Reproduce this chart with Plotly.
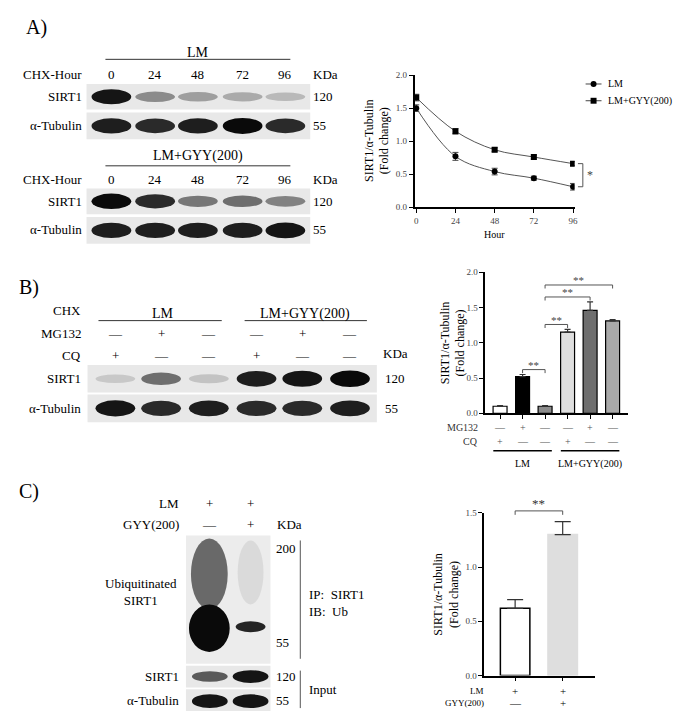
import plotly.graph_objects as go

W, H = 685, 711
def X(p): return p / W
def Y(p): return 1 - p / H

FONT = "'Liberation Serif', 'Times New Roman', 'DejaVu Serif', serif"

# ---- data ----
hours = [0, 24, 48, 72, 96]
lm_vals = [1.50, 0.77, 0.54, 0.44, 0.31]
lm_err = [0.05, 0.06, 0.05, 0.03, 0.05]
gyy_vals = [1.66, 1.15, 0.87, 0.76, 0.66]
gyy_err = [0.05, 0.04, 0.03, 0.03, 0.03]
series_names = ["LM", "LM+GYY(200)"]

b_vals = [0.10, 0.52, 0.10, 1.15, 1.46, 1.31]
b_err = [0.01, 0.03, 0.01, 0.04, 0.12, 0.02]
b_colors = ["white", "black", "#8c8c8c", "#dedede", "#6e6e6e", "#a9a9a9"]
b_mg132 = ["—", "+", "—", "—", "+", "—"]
b_cq = ["+", "—", "—", "+", "—", "—"]

c_vals = [0.62, 1.30]
c_err = [0.08, 0.12]
c_colors = ["white", "#dedede"]
c_lm = ["+", "+"]
c_gyy = ["—", "+"]

# blot band intensities
a_lm_sirt = [0.95, 0.35, 0.25, 0.2, 0.12]
a_lm_tub = [0.9, 0.85, 0.9, 1.0, 0.85]
a_gyy_sirt = [1.0, 0.85, 0.45, 0.5, 0.4]
a_gyy_tub = [0.9, 0.9, 0.9, 0.9, 0.95]
b_sirt = [0.04, 0.5, 0.08, 0.9, 0.95, 1.0]
b_tub = [0.95, 0.85, 0.9, 0.85, 0.85, 0.9]
c_sirt = [0.6, 0.95]
c_tub = [0.95, 0.95]

fig = go.Figure()
shapes, ann = [], []

def text(x, y, s, size=13, xa="center", xref="paper", yref="paper", color="black", angle=0):
    ann.append(dict(x=x, y=y, text=s, showarrow=False, xref=xref, yref=yref, xanchor=xa, textangle=angle,
                    yanchor="middle", font=dict(family=FONT, size=size, color=color)))

def hline(x0, x1, y, w=1, c="#333"):
    shapes.append(dict(type="line", xref="paper", yref="paper", x0=X(x0), x1=X(x1), y0=Y(y), y1=Y(y),
                       line=dict(color=c, width=w)))

def strip(x0, x1, y0, y1, lanes, inten, bw=40):
    shapes.append(dict(type="rect", xref="paper", yref="paper", x0=X(x0), x1=X(x1), y0=Y(y0), y1=Y(y1),
                       fillcolor="#e8e8e8", line=dict(width=0), layer="below"))
    cy = (y0 + y1) / 2
    for lx, v in zip(lanes, inten):
        h = (y1 - y0) * (0.3 + 0.3 * v)
        shapes.append(dict(type="circle", xref="paper", yref="paper", x0=X(lx - bw / 2), x1=X(lx + bw / 2),
                           y0=Y(cy - h / 2), y1=Y(cy + h / 2), fillcolor=f"rgba(10,10,10,{0.1 + 0.9 * v:.2f})",
                           line=dict(width=0)))

def dmap(v, r, d):
    return d[0] + (v - r[0]) / (r[1] - r[0]) * (d[1] - d[0])

# ---- Panel A blots ----
text(X(28), Y(15), "A)", 20)
a_lanes = [103, 147, 190, 235, 278]
for (lab, ly, liney, chy, s0, t0, sirt, tub) in [
        ("LM", 40, 47, 62, 72, 101, a_lm_sirt, a_lm_tub),
        ("LM+GYY(200)", 145, 155, 169, 178, 207, a_gyy_sirt, a_gyy_tub)]:
    text(X(190), Y(ly), lab, 14)
    hline(97, 283, liney)
    text(X(75), Y(chy), "CHX-Hour", 13, "right")
    for lx, hv in zip(a_lanes, hours):
        text(X(lx), Y(chy), str(hv), 13)
    text(X(304), Y(chy), "KDa", 13, "left")
    strip(78, 303, s0, s0 + 26, a_lanes, sirt)
    strip(78, 303, t0, t0 + 27, a_lanes, tub)
    text(X(75), Y(s0 + 13), "SIRT1", 13, "right")
    text(X(75), Y(t0 + 13), "α-Tubulin", 13, "right")
    text(X(304), Y(s0 + 13), "120", 13, "left")
    text(X(304), Y(t0 + 13), "55", 13, "left")

# ---- Panel B blots ----
text(X(20), Y(278), "B)", 20)
b_lanes = [107, 153, 201, 249, 295, 343]
text(X(74), Y(302), "CHX", 13, "right")
text(X(155), Y(305), "LM", 14)
hline(90, 214, 312)
text(X(298), Y(305), "LM+GYY(200)", 14)
hline(237, 360, 312)
text(X(74), Y(325), "MG132", 13, "right")
text(X(74), Y(347), "CQ", 13, "right")
for lx, m, c in zip(b_lanes, b_mg132, b_cq):
    text(X(lx), Y(325), m, 13)
    text(X(lx), Y(347), c, 13)
text(X(374), Y(345), "KDa", 13, "left")
strip(79, 370, 357, 385, b_lanes, b_sirt, 40)
strip(79, 370, 387, 415, b_lanes, b_tub, 40)
text(X(74), Y(371), "SIRT1", 13, "right")
text(X(74), Y(401), "α-Tubulin", 13, "right")
text(X(376), Y(371), "120", 13, "left")
text(X(376), Y(401), "55", 13, "left")

# ---- Panel C blots ----
text(X(20), Y(485), "C)", 20)
c_lanes = [202, 243]
text(X(173), Y(498), "LM", 13, "right")
text(X(173), Y(519), "GYY(200)", 13, "right")
for lx, a, g in zip(c_lanes, c_lm, c_gyy):
    text(X(lx), Y(498), a, 13)
    text(X(lx), Y(519), g, 13)
text(X(268), Y(519), "KDa", 13, "left")
shapes.append(dict(type="rect", xref="paper", yref="paper", x0=X(178), x1=X(263), y0=Y(530), y1=Y(660),
                   fillcolor="#ececec", line=dict(width=0), layer="below"))
for (x0, x1, y0, y1, col) in [(183, 220, 533, 605, "rgba(50,50,50,0.7)"), (181, 222, 600, 648, "rgba(10,10,10,1)"),
                              (230, 256, 535, 600, "rgba(120,120,120,0.15)"), (228, 258, 617, 628, "rgba(15,15,15,0.9)")]:
    shapes.append(dict(type="circle", xref="paper", yref="paper", x0=X(x0), x1=X(x1), y0=Y(y0), y1=Y(y1),
                       fillcolor=col, line=dict(width=0)))
text(X(267), Y(543), "200", 13, "left")
text(X(267), Y(638), "55", 13, "left")
text(X(133), Y(587), "Ubiquitinated<br>SIRT1", 13)
shapes.append(dict(type="line", xref="paper", yref="paper", x0=X(293), x1=X(293), y0=Y(535), y1=Y(655),
                   line=dict(color="#555", width=1)))
text(X(300), Y(590), "IP:  SIRT1", 13, "left")
text(X(300), Y(607), "IB:  Ub", 13, "left")
strip(178, 263, 662, 684, c_lanes, c_sirt, 36)
strip(178, 263, 686, 710, c_lanes, c_tub, 36)
text(X(173), Y(673), "SIRT1", 13, "right")
text(X(173), Y(697), "α-Tubulin", 13, "right")
text(X(267), Y(673), "120", 13, "left")
text(X(267), Y(697), "55", 13, "left")
shapes.append(dict(type="line", xref="paper", yref="paper", x0=X(293), x1=X(293), y0=Y(667), y1=Y(705),
                   line=dict(color="#555", width=1)))
text(X(300), Y(686), "Input", 13, "left")

# axis geometry
A_xr, A_xd, A_yr, A_yd = [-1, 97], [X(408), X(569)], [0, 2], [Y(197), Y(63)]
B_xr, B_xd, B_yr, B_yd = [-0.66, 5.7], [X(479), X(623)], [0, 2], [Y(406), Y(263)]
C_xr, C_xd, C_yr, C_yd = [-0.65, 1.67], [X(478), X(589)], [0, 1.5], [Y(672), Y(507)]

# ---- Chart A ----
fig.add_trace(go.Scatter(x=hours, y=lm_vals, error_y=dict(array=lm_err, color="#444", width=3, thickness=1),
                         mode="lines+markers", line=dict(shape="spline", color="#555", width=1),
                         marker=dict(symbol="circle", size=6, color="black"), name=series_names[0],
                         showlegend=False, xaxis="x", yaxis="y"))
fig.add_trace(go.Scatter(x=hours, y=gyy_vals, error_y=dict(array=gyy_err, color="#444", width=3, thickness=1),
                         mode="lines+markers", line=dict(shape="spline", color="#555", width=1),
                         marker=dict(symbol="square", size=6, color="black"), name=series_names[1],
                         showlegend=False, xaxis="x", yaxis="y"))
# manual legend
for k, (nm, sym) in enumerate(zip(series_names, ["circle", "rect"])):
    ly = 72 + 17 * k
    hline(580, 596, ly, 1, "#444")
    shapes.append(dict(type=sym, xref="paper", yref="paper", x0=X(585), x1=X(591), y0=Y(ly - 3), y1=Y(ly + 3),
                       fillcolor="black", line=dict(width=0)))
    text(X(601), Y(ly), nm, 10, "left")
bx0 = dmap(99, A_xr, A_xd); bx1 = dmap(102, A_xr, A_xd)
for (a, b, c, d) in [(bx0, bx1, lm_vals[-1], lm_vals[-1]), (bx1, bx1, lm_vals[-1], gyy_vals[-1]),
                     (bx0, bx1, gyy_vals[-1], gyy_vals[-1])]:
    shapes.append(dict(type="line", xref="paper", yref="paper", x0=a, x1=b, y0=dmap(c, A_yr, A_yd),
                       y1=dmap(d, A_yr, A_yd), line=dict(color="#555", width=1)))
text(bx1 + X(7), dmap((lm_vals[-1] + gyy_vals[-1]) / 2, A_yr, A_yd), "*", 12, color="#444")
text(dmap(48, A_xr, A_xd), Y(225), "Hour", 10)
text(X(370), dmap(1, A_yr, A_yd), "SIRT1/α-Tubulin<br>(Fold change)", 12, angle=-90)

# ---- Chart B ----
bx = list(range(6))
fig.add_trace(go.Bar(x=bx, y=b_vals, error_y=dict(type="data", symmetric=False, array=b_err, arrayminus=[0] * 6,
                                                  color="#333", width=3, thickness=1.2),
                     marker=dict(color=b_colors, line=dict(color="black", width=1.2)), width=0.62,
                     showlegend=False, xaxis="x2", yaxis="y2"))
for (i, j, h) in [(1, 2, 0.62), (2, 3, 1.26), (2, 4, 1.65), (2, 5, 1.82)]:
    fig.add_trace(go.Scatter(x=[i, i, j, j], y=[h - 0.05, h, h, h - 0.05], mode="lines",
                             line=dict(color="#555", width=1), showlegend=False, xaxis="x2", yaxis="y2",
                             hoverinfo="skip"))
    text(dmap((i + j) / 2, B_xr, B_xd), dmap(h + 0.07, B_yr, B_yd), "**", 11, color="#444")
for i in bx:
    text(dmap(i, B_xr, B_xd), Y(420), b_mg132[i], 10, color="#555")
    text(dmap(i, B_xr, B_xd), Y(435), b_cq[i], 10, color="#555")
text(X(474), Y(420), "MG132", 10, "right", color="#333")
text(X(474), Y(435), "CQ", 10, "right", color="#333")
for (a, b, lab) in [(-0.3, 2.3, "LM"), (2.7, 5.3, "LM+GYY(200)")]:
    shapes.append(dict(type="line", xref="x2", yref="paper", x0=a, x1=b, y0=Y(444), y1=Y(444),
                       line=dict(color="black", width=1.5)))
    text(dmap((a + b) / 2, B_xr, B_xd), Y(457), lab, 10)
text(X(446), dmap(1, B_yr, B_yd), "SIRT1/α-Tubulin<br>(Fold change)", 12, angle=-90)

# ---- Chart C ----
cx = [0, 1]
fig.add_trace(go.Bar(x=cx, y=c_vals, error_y=dict(type="data", symmetric=False, array=c_err, arrayminus=[0, 0],
                                                  color="#333", width=8, thickness=1.2),
                     marker=dict(color=c_colors, line=dict(color=["black", "#dedede"], width=1.5)), width=0.62,
                     showlegend=False, xaxis="x3", yaxis="y3"))
cb0, cb1 = dmap(0, C_xr, C_xd), dmap(1, C_xr, C_xd)
cby = Y(505)
shapes.append(dict(type="line", xref="paper", yref="paper", x0=cb0, x1=cb1, y0=cby, y1=cby, line=dict(color="#555", width=1)))
for xx in (cb0, cb1):
    shapes.append(dict(type="line", xref="paper", yref="paper", x0=xx, x1=xx, y0=cby, y1=cby - 4 / H,
                       line=dict(color="#555", width=1)))
text((cb0 + cb1) / 2, Y(497), "**", 13, color="#333")
for i in cx:
    text(dmap(i, C_xr, C_xd), Y(688), c_lm[i], 11)
    text(dmap(i, C_xr, C_xd), Y(700), c_gyy[i], 11)
text(X(480), Y(688), "LM", 9, "right")
text(X(480), Y(700), "GYY(200)", 9, "right")
text(X(440), dmap(0.75, C_yr, C_yd), "SIRT1/α-Tubulin<br>(Fold change)", 12, angle=-90)

ax_common = dict(showline=True, linecolor="black", linewidth=1.5, ticks="outside", ticklen=4,
                 tickcolor="black", showgrid=False, zeroline=False,
                 tickfont=dict(family=FONT, size=9, color="#444"))

fig.update_layout(
    width=W, height=H, margin=dict(l=0, r=0, t=0, b=0), paper_bgcolor="white", plot_bgcolor="white",
    font=dict(family=FONT, color="black"), showlegend=False,
    shapes=shapes, annotations=ann,
    xaxis=dict(domain=A_xd, range=A_xr, tickvals=hours, anchor="y", **ax_common),
    yaxis=dict(domain=A_yd, range=A_yr, tickvals=[0, 0.5, 1, 1.5, 2], tickformat=".1f", anchor="x", **ax_common),
    xaxis2=dict(domain=B_xd, range=B_xr, tickvals=bx, ticktext=[""] * 6, anchor="y2", **ax_common),
    yaxis2=dict(domain=B_yd, range=B_yr, tickvals=[0, 0.5, 1, 1.5, 2], tickformat=".1f", anchor="x2", **ax_common),
    xaxis3=dict(domain=C_xd, range=C_xr, tickvals=cx, ticktext=["", ""], anchor="y3", **ax_common),
    yaxis3=dict(domain=C_yd, range=C_yr, tickvals=[0, 0.5, 1, 1.5], tickformat=".1f", anchor="x3", **ax_common),
)
fig.write_html("out.html")
